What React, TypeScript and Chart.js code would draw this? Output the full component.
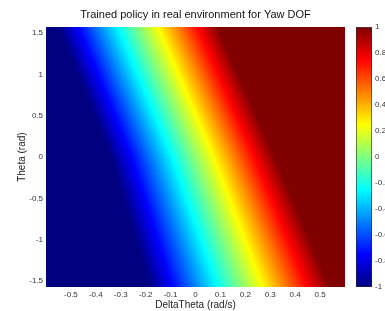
import React, { useEffect, useRef } from 'react';
import { Chart, registerables } from 'chart.js';

Chart.register(...registerables);

// ---- text ----
const titleText = 'Trained policy in real environment for Yaw DOF';
const xTitle = 'DeltaTheta (rad/s)';
const yTitle = 'Theta (rad)';

// ---- axes ----
const xMin = -0.6;
const xMax = 0.6;
const yMin = -1.571;
const yMax = 1.571;
const xTicks = [-0.5, -0.4, -0.3, -0.2, -0.1, 0, 0.1, 0.2, 0.3, 0.4, 0.5];
const yTicks = [-1.5, -1, -0.5, 0, 0.5, 1, 1.5];
const cbTicks = [-1, -0.8, -0.6, -0.4, -0.2, 0, 0.2, 0.4, 0.6, 0.8, 1];

// ---- data: policy action ramps, read per theta row ----
// Left of rampStart the action is -1, right of rampEnd it is +1, linear in between.
const thetaRows = [1.5, 0, -1.5];
const rampStart = [-0.54, -0.34, -0.19];
const rampEnd = [0.10, 0.32, 0.53];

// ---- jet colormap ----
const jetStops = [0, 0.125, 0.375, 0.625, 0.875, 1];
const jetColors = ['#000080', '#0000ff', '#00ffff', '#ffff00', '#ff0000', '#800000'];

const FONT = "'Liberation Sans', Arial, sans-serif";

function rampAt(theta: number, arr: number[]) {
  let i = 0;
  if (theta <= thetaRows[1]) i = 1;
  const t0 = thetaRows[i], t1 = thetaRows[i + 1];
  const f = (theta - t0) / (t1 - t0);
  return arr[i] + (arr[i + 1] - arr[i]) * f;
}

const heatmapPlugin = {
  id: 'heatmap',
  beforeDatasetsDraw(chart: any) {
    const { ctx, chartArea } = chart;
    const xs = chart.scales.x;
    const ys = chart.scales.y;
    const y2 = chart.scales.cb;
    ctx.save();
    const top = Math.floor(chartArea.top);
    const bottom = Math.ceil(chartArea.bottom);
    for (let py = top; py < bottom; py++) {
      const theta = ys.getValueForPixel(py + 0.5);
      const s = rampAt(theta, rampStart);
      const e = rampAt(theta, rampEnd);
      const x0 = xs.getPixelForValue(s);
      const x1 = xs.getPixelForValue(e);
      const g = ctx.createLinearGradient(x0, 0, x1, 0);
      jetStops.forEach((st, k) => g.addColorStop(st, jetColors[k]));
      ctx.fillStyle = g;
      ctx.fillRect(chartArea.left, py, chartArea.right - chartArea.left, 1);
    }
    // colorbar
    const cbLeft = chartArea.right + 11;
    const cbW = 16;
    const yTop = y2.getPixelForValue(1);
    const yBot = y2.getPixelForValue(-1);
    const cg = ctx.createLinearGradient(0, yBot, 0, yTop);
    jetStops.forEach((st, k) => cg.addColorStop(st, jetColors[k]));
    ctx.fillStyle = cg;
    ctx.fillRect(cbLeft, yTop, cbW, yBot - yTop);
    ctx.strokeStyle = 'rgba(40,40,40,0.6)';
    ctx.lineWidth = 1;
    ctx.strokeRect(cbLeft + 0.5, yTop + 0.5, cbW - 1, yBot - yTop - 1);
    ctx.restore();
  },
};

const fmt = (v: any) => String(Math.round(Number(v) * 10) / 10);
const noPad = (s: any) => {
  s.paddingTop = 0;
  s.paddingBottom = 0;
  s.paddingLeft = 0;
  s.paddingRight = 0;
};

export default function App() {
  const ref = useRef<HTMLCanvasElement | null>(null);
  useEffect(() => {
    if (!ref.current) return;
    const tickFont = { family: FONT, size: 8 };
    const chart = new Chart(ref.current, {
      type: 'scatter',
      data: { datasets: [] },
      plugins: [heatmapPlugin],
      options: {
        animation: false,
        responsive: false,
        devicePixelRatio: 1,
        layout: { padding: 0 },
        plugins: {
          legend: { display: false },
          tooltip: { enabled: false },
          title: {
            display: true,
            text: titleText,
            fullSize: false,
            color: '#111',
            font: { family: FONT, size: 11, weight: 'normal' },
            padding: { top: 8, bottom: 6 },
          },
        },
        scales: {
          x: {
            type: 'linear',
            position: 'bottom',
            min: xMin,
            max: xMax,
            afterBuildTicks: (s: any) => { s.ticks = xTicks.map((v) => ({ value: v })); },
            afterFit: (s: any) => { s.height = 24; noPad(s); },
            grid: { display: false, drawTicks: false },
            border: { display: false },
            ticks: { font: tickFont, color: '#333', padding: 3, maxRotation: 0, autoSkip: false, callback: fmt },
            title: { display: true, text: xTitle, color: '#222', font: { family: FONT, size: 10 }, padding: { top: 0, bottom: 0 } },
          },
          y: {
            type: 'linear',
            position: 'left',
            min: yMin,
            max: yMax,
            afterBuildTicks: (s: any) => { s.ticks = yTicks.map((v) => ({ value: v })); },
            afterFit: (s: any) => { s.width = 46; noPad(s); },
            grid: { display: false, drawTicks: false },
            border: { display: false },
            ticks: { font: tickFont, color: '#333', padding: 3, autoSkip: false, callback: fmt },
            title: { display: true, text: yTitle, color: '#222', font: { family: FONT, size: 10 }, padding: { top: 16, bottom: 0 } },
          },
          cb: {
            type: 'linear',
            position: 'right',
            min: -1,
            max: 1,
            afterBuildTicks: (s: any) => { s.ticks = cbTicks.map((v) => ({ value: v })); },
            afterFit: (s: any) => { s.width = 40; noPad(s); },
            grid: { display: false, drawTicks: false },
            border: { display: false },
            ticks: { font: tickFont, color: '#333', padding: 30, autoSkip: false, callback: fmt },
          },
        },
      } as any,
    });
    return () => chart.destroy();
  }, []);
  return (
    <div style={{ position: 'absolute', left: 0, top: 0, width: 385, height: 311, background: '#fff' }}>
      <canvas ref={ref} width={385} height={311} style={{ display: 'block' }} />
    </div>
  );
}
